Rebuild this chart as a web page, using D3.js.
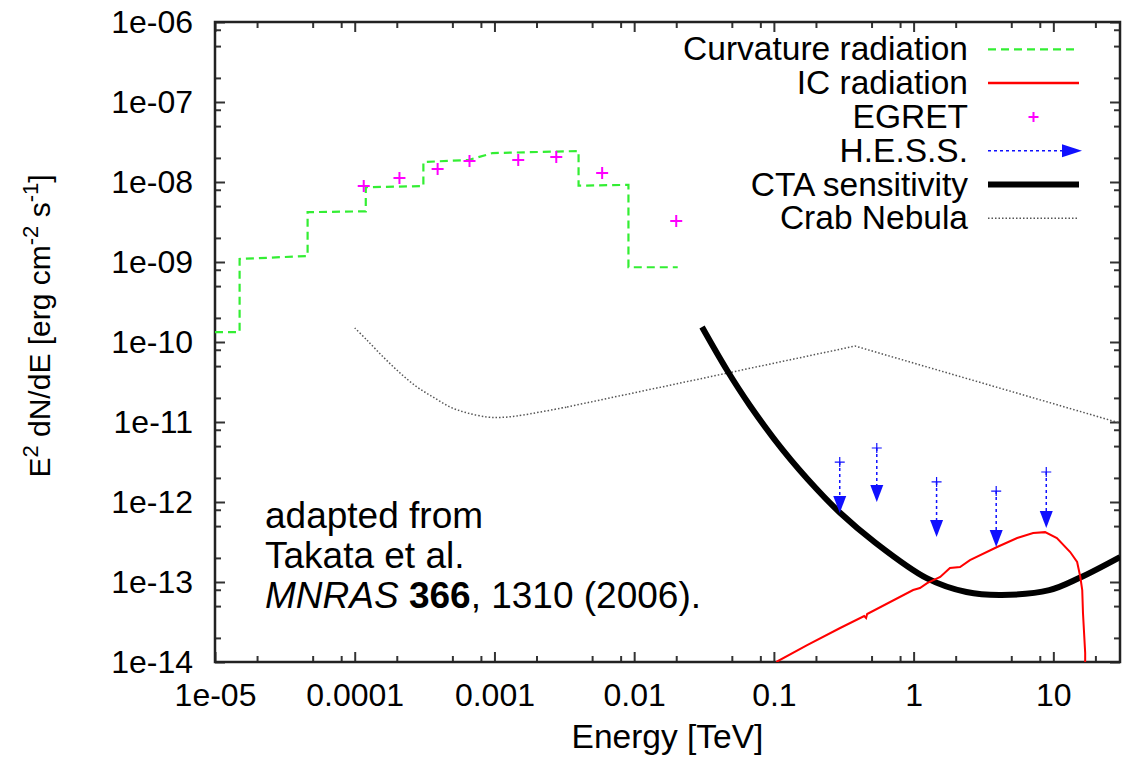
<!DOCTYPE html>
<html>
<head>
<meta charset="utf-8">
<script src="https://cdn.jsdelivr.net/npm/d3@7"></script>
<style>
  body { margin: 0; background: #fff; }
  svg text { font-family: 'Liberation Sans', Arial, Helvetica, sans-serif; fill: #000; }
</style>
</head>
<body>
<div id="chart"></div>
<script>
// --- data (energy in TeV, E^2 dN/dE in erg cm^-2 s^-1) ---
const curvE = [1.0e-5, 1.5e-5, 1.5e-5, 4.6e-5, 4.6e-5, 1.2e-4, 1.2e-4, 3.1e-4, 3.1e-4, 6.5e-4, 9.7e-4, 4.0e-3, 4.0e-3, 9.1e-3, 9.1e-3, 2.05e-2];
const curvF = [1.33e-10, 1.33e-10, 1.09e-9, 1.19e-9, 4.2e-9, 4.3e-9, 8.6e-9, 8.9e-9, 1.78e-8, 1.88e-8, 2.3e-8, 2.44e-8, 9.0e-9, 9.2e-9, 8.6e-10, 8.6e-10];

const egretE = [1.16e-4, 2.09e-4, 3.92e-4, 6.63e-4, 1.48e-3, 2.77e-3, 5.9e-3, 2.0e-2];
const egretF = [8.9e-9, 1.12e-8, 1.45e-8, 1.83e-8, 1.88e-8, 2.05e-8, 1.3e-8, 3.25e-9];

// curved low-energy part of the Crab spectrum, then the straight broken power law
const crabE = [1.0e-4, 1.22e-4, 1.6e-4, 2.11e-4, 2.79e-4, 3.64e-4, 4.81e-4, 6.37e-4, 8.85e-4, 1.1e-3, 1.45e-3, 3.31e-3];
const crabF = [1.5e-10, 1.06e-10, 6.5e-11, 4.1e-11, 2.74e-11, 2.05e-11, 1.54e-11, 1.3e-11, 1.155e-11, 1.14e-11, 1.19e-11, 1.54e-11];
const crabBreakE = [3.31e-3, 0.381, 30];
const crabBreakF = [1.54e-11, 8.9e-11, 9.7e-12];

const ctaE = [0.0306, 0.0461, 0.0675, 0.116, 0.203, 0.296, 0.526, 1.24, 2.39, 4.26, 9.35, 15.3, 30];
const ctaF = [1.54e-10, 4.47e-11, 1.6e-11, 4.45e-12, 1.44e-12, 7.4e-13, 3.16e-13, 1.12e-13, 7.5e-14, 6.9e-14, 7.9e-14, 1.12e-13, 2.05e-13];

const icE = [0.104, 0.173, 0.298, 0.443, 0.457, 0.465, 0.992, 1.11, 1.25, 1.55, 1.82, 2.15, 2.53, 3.96, 5.51, 7.17, 8.73, 10.6, 13.2, 14.8, 15.6, 16.1, 16.3, 16.9, 16.9];
const icF = [1e-14, 1.63e-14, 2.66e-14, 3.76e-14, 3.55e-14, 3.98e-14, 7.94e-14, 8.4e-14, 9.7e-14, 1.155e-13, 1.5e-13, 1.54e-13, 1.88e-13, 2.74e-13, 3.55e-13, 4.1e-13, 4.2e-13, 3.55e-13, 2.37e-13, 1.78e-13, 1.155e-13, 7.94e-14, 4.1e-14, 1.3e-14, 1e-14];

const hessE = [0.296, 0.545, 1.46, 3.9, 8.9];
const hessF = [3.16e-12, 4.73e-12, 1.78e-12, 1.37e-12, 2.37e-12];
const hessTip = [7.3e-13, 1.0e-12, 3.65e-13, 2.74e-13, 4.73e-13];

const xMajor = [1e-5, 1e-4, 1e-3, 1e-2, 1e-1, 1, 10];
const xTickLabels = ['1e-05', '0.0001', '0.001', '0.01', '0.1', '1', '10'];
const yMajor = [1e-14, 1e-13, 1e-12, 1e-11, 1e-10, 1e-9, 1e-8, 1e-7, 1e-6];
const yTickLabels = ['1e-14', '1e-13', '1e-12', '1e-11', '1e-10', '1e-09', '1e-08', '1e-07', '1e-06'];
const minorSteps = [2, 5, 8];

const legendLabels = ['Curvature radiation', 'IC radiation', 'EGRET', 'H.E.S.S.', 'CTA sensitivity', 'Crab Nebula'];

// --- chart ---
const width = 1129, height = 765;
const pLeft = 215, pRight = 1120, pTop = 22, pBottom = 662;

const x = d3.scaleLog().domain([1e-5, 30]).range([pLeft, pRight]);
const y = d3.scaleLog().domain([1e-14, 1e-6]).range([pBottom, pTop]);

const svg = d3.select('#chart').append('svg')
    .attr('width', width)
    .attr('height', height);

svg.append('defs').append('clipPath').attr('id', 'plotClip')
    .append('rect')
        .attr('x', pLeft).attr('y', pTop)
        .attr('width', pRight - pLeft).attr('height', pBottom - pTop);

const xMinor = xMajor.flatMap(d => minorSteps.map(m => d * m)).filter(d => d > 1e-5 && d < 30);
const yMinor = yMajor.flatMap(d => minorSteps.map(m => d * m)).filter(d => d > 1e-14 && d < 1e-6);

function styleAxis(g) {
    g.select('.domain').remove();
    g.selectAll('.tick line').attr('stroke', '#333').attr('stroke-width', 2);
    g.selectAll('.tick text').attr('font-size', 32).attr('fill', '#000')
        .style('font-family', "'Liberation Sans', Arial, sans-serif");
}

// major ticks with labels
svg.append('g')
    .attr('transform', `translate(0,${pBottom})`)
    .call(d3.axisBottom(x).tickValues(xMajor).tickFormat((d, i) => xTickLabels[i]).tickSize(-10).tickPadding(21))
    .call(styleAxis);

svg.append('g')
    .attr('transform', `translate(${pLeft},0)`)
    .call(d3.axisLeft(y).tickValues(yMajor).tickFormat((d, i) => yTickLabels[i]).tickSize(-10).tickPadding(22))
    .call(styleAxis);

// mirrored major ticks
svg.append('g')
    .attr('transform', `translate(0,${pTop})`)
    .call(d3.axisTop(x).tickValues(xMajor).tickFormat('').tickSize(-10))
    .call(styleAxis);

svg.append('g')
    .attr('transform', `translate(${pRight},0)`)
    .call(d3.axisRight(y).tickValues(yMajor).tickFormat('').tickSize(-10))
    .call(styleAxis);

// minor ticks on all four sides
[[d3.axisBottom(x), pBottom, 'x', xMinor], [d3.axisTop(x), pTop, 'x', xMinor],
 [d3.axisLeft(y), pLeft, 'y', yMinor], [d3.axisRight(y), pRight, 'y', yMinor]].forEach(([ax, pos, dir, vals]) => {
    svg.append('g')
        .attr('transform', dir === 'x' ? `translate(0,${pos})` : `translate(${pos},0)`)
        .call(ax.tickValues(vals).tickFormat('').tickSize(-6))
        .call(styleAxis);
});

// frame
svg.append('rect')
    .attr('x', pLeft).attr('y', pTop)
    .attr('width', pRight - pLeft).attr('height', pBottom - pTop)
    .attr('fill', 'none')
    .attr('stroke', '#222')
    .attr('stroke-width', 2.5);

const plot = svg.append('g').attr('clip-path', 'url(#plotClip)');

const line = d3.line().x(d => x(d[0])).y(d => y(d[1]));
const smoothLine = d3.line().x(d => x(d[0])).y(d => y(d[1])).curve(d3.curveCatmullRom.alpha(0.5));

// Crab Nebula (dotted gray)
[[d3.zip(crabE, crabF), smoothLine], [d3.zip(crabBreakE, crabBreakF), line]].forEach(([pts, gen]) => {
    plot.append('path')
        .datum(pts)
        .attr('d', gen)
        .attr('fill', 'none')
        .attr('stroke', '#555')
        .attr('stroke-width', 1.5)
        .attr('stroke-dasharray', '1.5,2');
});

// CTA sensitivity (thick black)
plot.append('path')
    .datum(d3.zip(ctaE, ctaF))
    .attr('d', smoothLine)
    .attr('fill', 'none')
    .attr('stroke', '#000')
    .attr('stroke-width', 6);

// Curvature radiation (green dashed steps)
plot.append('path')
    .datum(d3.zip(curvE, curvF))
    .attr('d', line)
    .attr('fill', 'none')
    .attr('stroke', '#33ee33')
    .attr('stroke-width', 2.2)
    .attr('stroke-dasharray', '8,5');

// IC radiation (red)
plot.append('path')
    .datum(d3.zip(icE, icF))
    .attr('d', line)
    .attr('fill', 'none')
    .attr('stroke', '#ff0000')
    .attr('stroke-width', 2);

// EGRET points
function cross(g, cx, cy, size, color, sw) {
    g.append('path')
        .attr('d', `M${cx - size},${cy}H${cx + size}M${cx},${cy - size}V${cy + size}`)
        .attr('stroke', color)
        .attr('stroke-width', sw)
        .attr('fill', 'none');
}
d3.zip(egretE, egretF).forEach(([e, f]) => cross(plot, x(e), y(f), 6, '#ff00ff', 2));

// H.E.S.S. upper limits
const hessColor = '#1010ff';
d3.zip(hessE, hessF, hessTip).forEach(([e, f, t]) => {
    const cx = x(e), y0 = y(f), y1 = y(t);
    cross(plot, cx, y0, 5, hessColor, 1.2);
    plot.append('line')
        .attr('x1', cx).attr('x2', cx)
        .attr('y1', y0).attr('y2', y1 - 14)
        .attr('stroke', hessColor)
        .attr('stroke-width', 1.5)
        .attr('stroke-dasharray', '3,3');
    plot.append('path')
        .attr('d', `M${cx - 6.5},${y1 - 17}L${cx + 6.5},${y1 - 17}L${cx},${y1}Z`)
        .attr('fill', hessColor);
});

// --- legend ---
const legTextX = 968, legX0 = 988, legX1 = 1079, legY0 = 49.3, legDy = 33.8;
const legRow = i => legY0 + i * legDy;
const legend = svg.append('g');
legendLabels.forEach((lab, i) => {
    legend.append('text')
        .attr('x', legTextX)
        .attr('y', legRow(i) + 11)
        .attr('text-anchor', 'end')
        .attr('font-size', 33.5)
        .text(lab);
});
legend.append('line').attr('x1', legX0).attr('x2', legX1).attr('y1', legRow(0)).attr('y2', legRow(0))
    .attr('stroke', '#33ee33').attr('stroke-width', 2.2).attr('stroke-dasharray', '8,5');
legend.append('line').attr('x1', legX0).attr('x2', legX1).attr('y1', legRow(1)).attr('y2', legRow(1))
    .attr('stroke', '#ff0000').attr('stroke-width', 2.5);
cross(legend, (legX0 + legX1) / 2, legRow(2), 5, '#ff00ff', 2);
legend.append('line').attr('x1', legX0).attr('x2', legX1 - 14).attr('y1', legRow(3)).attr('y2', legRow(3))
    .attr('stroke', hessColor).attr('stroke-width', 1.5).attr('stroke-dasharray', '3,3');
legend.append('path')
    .attr('d', `M${legX1 - 17},${legRow(3) - 6.5}L${legX1 - 17},${legRow(3) + 6.5}L${legX1 + 3},${legRow(3)}Z`)
    .attr('fill', hessColor);
legend.append('line').attr('x1', legX0).attr('x2', legX1).attr('y1', legRow(4)).attr('y2', legRow(4))
    .attr('stroke', '#000').attr('stroke-width', 6);
legend.append('line').attr('x1', legX0).attr('x2', legX1).attr('y1', legRow(5)).attr('y2', legRow(5))
    .attr('stroke', '#555').attr('stroke-width', 1.5).attr('stroke-dasharray', '1.5,2');

// --- axis titles ---
svg.append('text')
    .attr('x', (pLeft + pRight) / 2)
    .attr('y', 748)
    .attr('text-anchor', 'middle')
    .attr('font-size', 33.5)
    .text('Energy [TeV]');

const yTitle = svg.append('text')
    .attr('transform', 'translate(50,326) rotate(-90)')
    .attr('text-anchor', 'middle')
    .attr('font-size', 30);
yTitle.append('tspan').text('E');
yTitle.append('tspan').attr('dy', -12).attr('font-size', 22).text('2');
yTitle.append('tspan').attr('dy', 12).text(' dN/dE [erg cm');
yTitle.append('tspan').attr('dy', -12).attr('font-size', 22).text('-2');
yTitle.append('tspan').attr('dy', 12).text(' s');
yTitle.append('tspan').attr('dy', -12).attr('font-size', 22).text('-1');
yTitle.append('tspan').attr('dy', 12).text(']');

// --- annotation ---
const note = svg.append('g').attr('font-size', 37);
note.append('text').attr('x', 265).attr('y', 528).text('adapted from');
note.append('text').attr('x', 265).attr('y', 568).text('Takata et al.');
const ref = note.append('text').attr('x', 265).attr('y', 608);
ref.append('tspan').attr('font-style', 'italic').text('MNRAS');
ref.append('tspan').attr('font-weight', 'bold').text(' 366');
ref.append('tspan').text(', 1310 (2006).');
</script>
</body>
</html>
